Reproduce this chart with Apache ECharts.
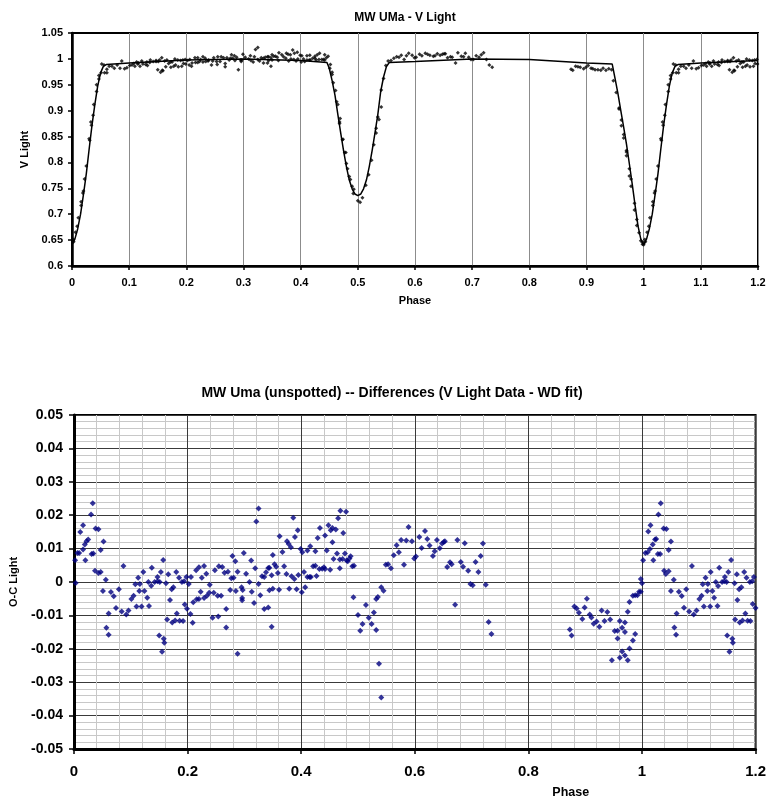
<!DOCTYPE html>
<html>
<head>
<meta charset="utf-8">
<script src="https://cdn.jsdelivr.net/npm/echarts@6.0.0/dist/echarts.min.js"></script>
<style>
html,body{margin:0;padding:0;background:#fff;}
#chart{width:769px;height:800px;}
</style>
</head>
<body>
<div id="chart"></div>
<script>
// ---------- Data ----------
const topTitle = 'MW UMa - V Light';
const bottomTitle = 'MW Uma (unspotted) -- Differences (V Light Data - WD fit)';

// WD fit curve (phase, V light)
const fitCurve = [
[0,0.641],[0.005,0.652],[0.01,0.672],[0.015,0.700],[0.02,0.738],[0.025,0.778],[0.03,0.826],[0.035,0.872],[0.04,0.912],[0.045,0.948],[0.05,0.973],[0.055,0.986],[0.06,0.989],
[0.1,0.992],[0.2,0.998],[0.3,1.000],[0.4,0.997],[0.446,0.993],
[0.45,0.982],[0.455,0.958],[0.46,0.930],[0.465,0.893],[0.47,0.857],[0.475,0.823],[0.48,0.792],[0.485,0.766],[0.49,0.749],[0.495,0.739],[0.5,0.736],
[0.505,0.739],[0.51,0.749],[0.515,0.766],[0.52,0.792],[0.525,0.823],[0.53,0.857],[0.535,0.893],[0.54,0.937],[0.545,0.965],[0.55,0.985],[0.555,0.993],
[0.6,0.995],[0.7,1.000],[0.8,0.999],[0.9,0.992],[0.945,0.990],
[0.95,0.962],[0.955,0.933],[0.96,0.900],[0.965,0.868],[0.97,0.835],[0.975,0.797],[0.98,0.758],[0.985,0.717],[0.99,0.678],[0.995,0.652],[1.0,0.641],
[1.005,0.652],[1.01,0.672],[1.015,0.700],[1.02,0.738],[1.025,0.778],[1.03,0.826],[1.035,0.872],[1.04,0.912],[1.045,0.948],[1.05,0.973],[1.055,0.986],[1.06,0.989],
[1.1,0.992],[1.2,0.997]
];

// Observed V light (phase, V light)
const vLightObs = [
[0.002,0.651],[0.003,0.647],[0.006,0.665],[0.009,0.677],[0.011,0.693],[0.016,0.724],[0.016,0.717],[0.019,0.741],[0.020,0.745],[0.022,0.768],[0.025,0.793],[0.030,0.846],[0.031,0.843],[0.033,0.878],[0.034,0.872],[0.037,0.891],[0.038,0.912],[0.043,0.950],[0.043,0.937],[0.047,0.968],[0.047,0.961],[0.051,0.973],[0.052,0.990],[0.056,0.988],[0.057,0.973],[0.061,0.980],[0.061,0.973],[0.065,0.986],[0.070,0.986],[0.074,0.982],[0.079,0.988],[0.084,0.982],[0.087,0.996],[0.092,0.981],[0.096,0.983],[0.101,0.987],[0.105,0.988],[0.108,0.991],[0.110,0.986],[0.113,0.994],[0.115,0.990],[0.116,0.992],[0.119,0.986],[0.122,0.996],[0.124,0.990],[0.129,0.989],[0.131,0.994],[0.132,0.987],[0.136,0.993],[0.137,0.998],[0.142,0.995],[0.147,0.995],[0.147,0.997],[0.150,0.979],[0.151,0.995],[0.153,0.998],[0.155,0.974],[0.157,1.002],[0.158,0.978],[0.159,0.977],[0.162,0.996],[0.164,0.985],[0.166,0.998],[0.169,0.991],[0.172,0.994],[0.173,0.984],[0.175,0.994],[0.178,0.986],[0.180,1.000],[0.181,0.988],[0.185,0.998],[0.186,0.985],[0.190,0.997],[0.192,0.986],[0.194,0.998],[0.195,0.991],[0.198,0.999],[0.199,0.990],
[0.202,0.997],[0.205,0.988],[0.206,0.999],[0.209,0.986],[0.210,0.992],[0.215,1.002],[0.216,0.993],[0.220,0.993],[0.220,1.002],[0.223,0.995],[0.225,0.999],[0.229,1.004],[0.229,0.994],[0.233,1.001],[0.234,0.995],[0.238,0.996],[0.239,0.998],[0.244,0.988],[0.246,0.996],[0.248,1.002],[0.253,0.995],[0.254,0.989],[0.255,1.004],[0.259,0.995],[0.261,1.004],[0.265,1.002],[0.268,0.991],[0.268,0.985],[0.271,1.002],[0.275,0.998],[0.277,1.001],[0.279,1.008],[0.281,1.001],[0.284,1.006],[0.285,0.997],[0.288,1.003],[0.291,0.979],[0.295,0.998],[0.296,0.995],[0.297,0.998],[0.299,1.009],[0.303,1.003],[0.309,1.000],[0.312,1.006],[0.313,0.997],[0.317,0.994],[0.319,1.004],[0.321,1.018],[0.325,1.022],[0.325,0.999],[0.328,0.996],[0.331,1.002],[0.335,1.001],[0.335,0.992],[0.338,1.003],[0.342,1.004],[0.342,0.992],[0.344,1.004],[0.344,0.997],[0.348,1.002],[0.348,0.986],[0.350,1.008],[0.350,0.998],[0.353,1.005],[0.356,1.005],[0.359,1.003],[0.361,0.997],[0.362,1.012],[0.367,1.008],[0.370,1.004],[0.374,1.001],[0.375,1.011],[0.378,1.009],[0.379,0.996],[0.382,1.008],[0.383,1.000],[0.386,1.017],[0.388,0.999],[0.389,1.011],[0.392,0.996],[0.394,1.013],[0.395,1.000],[0.399,1.007],[0.401,0.994],[0.402,1.006],[0.405,1.000],[0.407,0.995],[0.411,1.006],[0.411,0.998],[0.415,0.998],[0.416,1.007],[0.417,0.998],[0.421,1.001],[0.425,1.005],[0.425,1.001],[0.427,0.998],[0.429,1.008],[0.432,0.999],[0.433,1.011],[0.437,0.999],[0.440,0.999],[0.442,1.008],[0.442,0.998],[0.445,1.002],[0.448,1.005],
[0.451,0.982],[0.452,0.989],[0.455,0.974],[0.455,0.970],[0.457,0.954],[0.461,0.939],[0.463,0.917],[0.465,0.912],[0.468,0.878],[0.468,0.875],[0.469,0.885],[0.473,0.844],[0.474,0.845],[0.477,0.819],[0.479,0.819],[0.480,0.798],[0.482,0.788],[0.485,0.773],[0.487,0.767],[0.490,0.754],[0.492,0.740],[0.493,0.748],[0.500,0.726],[0.504,0.723],[0.508,0.732],[0.514,0.756],[0.519,0.776],[0.524,0.804],[0.528,0.834],[0.532,0.857],[0.532,0.866],[0.535,0.888],[0.537,0.883],[0.541,0.940],[0.541,0.907],[0.545,0.962],[0.549,0.987],[0.553,0.996],[0.558,0.997],
[0.563,1.001],[0.568,1.004],[0.572,1.003],[0.576,1.007],[0.581,0.999],[0.585,1.006],[0.589,1.011],[0.595,1.007],[0.599,1.002],[0.602,1.003],[0.608,1.009],[0.612,1.006],[0.618,1.011],[0.622,1.009],[0.626,1.007],[0.632,1.005],[0.635,1.006],[0.639,1.010],[0.644,1.007],[0.648,1.009],[0.651,1.010],[0.653,1.010],[0.657,1.002],[0.662,1.004],[0.665,1.003],[0.671,0.992],[0.675,1.012],[0.681,1.005],[0.685,1.004],[0.688,1.011],[0.694,1.003],[0.698,0.999],[0.702,0.999],[0.707,1.006],[0.712,1.003],[0.716,1.008],[0.720,1.012],[0.725,0.999],[0.730,0.988],[0.735,0.984],
[0.873,0.980],[0.876,0.978],[0.881,0.986],[0.885,0.985],[0.889,0.984],[0.895,0.981],[0.899,0.984],[0.903,0.987],[0.908,0.982],[0.911,0.981],[0.915,0.979],[0.920,0.979],[0.925,0.978],[0.929,0.982],[0.934,0.978],[0.939,0.981],[0.944,0.979],[0.947,0.958],[0.952,0.935],[0.957,0.905],[0.957,0.903],[0.961,0.882],[0.961,0.871],[0.965,0.854],[0.965,0.847],[0.970,0.823],[0.970,0.820],[0.970,0.813],[0.975,0.774],[0.975,0.788],[0.978,0.754],[0.978,0.768],[0.984,0.708],[0.984,0.721],[0.988,0.678],[0.988,0.690],[0.992,0.664],[0.995,0.649],[0.998,0.642],[0.998,0.646],[1.000,0.641],
[1.002,0.651],[1.003,0.647],[1.006,0.665],[1.009,0.677],[1.011,0.693],[1.016,0.724],[1.016,0.717],[1.019,0.741],[1.020,0.745],[1.022,0.768],[1.025,0.793],[1.030,0.846],[1.031,0.843],[1.033,0.878],[1.034,0.872],[1.037,0.891],[1.038,0.912],[1.043,0.950],[1.043,0.937],[1.047,0.968],[1.047,0.961],[1.051,0.973],[1.052,0.990],[1.056,0.988],[1.057,0.973],[1.061,0.980],[1.061,0.973],[1.065,0.986],[1.070,0.986],[1.074,0.982],[1.079,0.988],[1.084,0.982],[1.087,0.996],[1.092,0.981],[1.096,0.983],[1.101,0.987],[1.105,0.988],[1.108,0.991],[1.110,0.986],[1.113,0.994],[1.115,0.990],[1.116,0.992],[1.119,0.986],[1.122,0.996],[1.124,0.990],[1.129,0.989],[1.131,0.994],[1.132,0.987],[1.136,0.993],[1.137,0.998],[1.142,0.995],[1.147,0.995],[1.147,0.997],[1.150,0.979],[1.151,0.995],[1.153,0.998],[1.155,0.974],[1.157,1.002],[1.158,0.978],[1.159,0.977],[1.162,0.996],[1.164,0.985],[1.166,0.998],[1.169,0.991],[1.172,0.994],[1.173,0.984],[1.175,0.994],[1.178,0.986],[1.180,1.000],[1.181,0.988],[1.185,0.998],[1.186,0.985],[1.190,0.997],[1.192,0.986],[1.194,0.998],[1.195,0.991],[1.198,0.999],[1.199,0.990]
];

// O-C residuals (phase, V light data - WD fit)
const ocResiduals = [
[0.002,0.0065],[0.003,-0.0003],[0.006,0.0087],[0.009,0.0087],[0.011,0.015],[0.016,0.017],[0.016,0.0097],[0.019,0.0112],[0.020,0.0065],[0.022,0.0122],[0.025,0.0127],[0.030,0.0202],[0.031,0.0084],[0.033,0.0236],[0.034,0.0085],[0.037,0.0034],[0.038,0.016],[0.043,0.0158],[0.043,0.0027],[0.047,0.0096],[0.047,0.003],[0.051,-0.0027],[0.052,0.0121],[0.056,0.0007],[0.057,-0.0137],[0.061,-0.0094],[0.061,-0.0158],[0.065,-0.003],[0.070,-0.0043],[0.074,-0.0078],[0.079,-0.0022],[0.084,-0.0088],[0.087,0.0048],[0.092,-0.0097],[0.096,-0.0085],[0.101,-0.0051],[0.105,-0.0041],[0.108,-0.0007],[0.110,-0.0073],[0.113,0.0013],[0.115,-0.0027],[0.116,-0.0006],[0.119,-0.0073],[0.122,0.003],[0.124,-0.0027],[0.129,-0.0047],[0.131,0],[0.132,-0.0072],[0.136,-0.0011],[0.137,0.0043],[0.142,0],[0.147,0.0002],[0.147,0.0015],[0.150,-0.016],[0.151,0],[0.153,0.003],[0.155,-0.0209],[0.157,0.0066],[0.158,-0.017],[0.159,-0.0182],[0.162,-0.0004],[0.164,-0.0112],[0.166,0.0023],[0.169,-0.0054],[0.172,-0.0022],[0.173,-0.0121],[0.175,-0.0016],[0.178,-0.0115],[0.180,0.003],[0.181,-0.0094],[0.185,0.0013],[0.186,-0.0116],[0.190,0],[0.192,-0.0117],[0.194,0.0002],[0.195,-0.0067],[0.198,0.0015],[0.199,-0.008],
[0.202,-0.0006],[0.205,-0.0096],[0.206,0.0015],[0.209,-0.0122],[0.210,-0.0061],[0.215,0.0035],[0.216,-0.0052],[0.220,-0.0051],[0.220,0.0044],[0.223,-0.0029],[0.225,0.0013],[0.229,0.0048],[0.229,-0.0048],[0.233,0.0025],[0.234,-0.0041],[0.238,-0.0032],[0.239,-0.0008],[0.244,-0.0107],[0.246,-0.0032],[0.248,0.0035],[0.253,-0.0041],[0.254,-0.0103],[0.255,0.0047],[0.259,-0.0041],[0.261,0.0045],[0.265,0.0028],[0.268,-0.0081],[0.268,-0.0136],[0.271,0.0031],[0.275,-0.0024],[0.277,0.0011],[0.279,0.0078],[0.281,0.0013],[0.284,0.0062],[0.285,-0.0027],[0.288,0.0031],[0.288,-0.0215],[0.295,-0.0016],[0.296,-0.0055],[0.297,-0.0024],[0.296,-0.0048],[0.299,0.0087],[0.303,0.0025],[0.309,0],[0.312,0.0064],[0.313,-0.0029],[0.317,-0.0063],[0.319,0.0041],[0.321,0.0181],[0.325,0.022],[0.325,-0.0006],[0.328,-0.004],[0.331,0.0017],[0.335,0.0015],[0.335,-0.0081],[0.338,0.0029],[0.342,0.0042],[0.342,-0.0076],[0.344,0.0043],[0.344,-0.0025],[0.348,0.002],[0.348,-0.0134],[0.350,0.0081],[0.350,-0.002],[0.353,0.0053],[0.356,0.0046],[0.359,0.0027],[0.361,-0.0023],[0.362,0.0137],[0.367,0.009],[0.370,0.0047],[0.374,0.0024],[0.375,0.0122],[0.378,0.0114],[0.379,-0.002],[0.382,0.0104],[0.383,0.0017],[0.386,0.0192],[0.388,0.0009],[0.389,0.0135],[0.392,-0.0022],[0.394,0.0155],[0.395,0.0021],[0.399,0.0099],[0.401,-0.0031],[0.402,0.0089],[0.405,0.003],[0.407,-0.0016],
[0.411,0.0094],[0.411,0.0015],[0.415,0.0015],[0.416,0.0107],[0.417,0.0015],[0.421,0.0047],[0.425,0.0092],[0.425,0.0049],[0.427,0.0018],[0.429,0.0132],[0.432,0.0039],[0.433,0.0162],[0.437,0.004],[0.440,0.0044],[0.442,0.0139],[0.442,0.0039],[0.445,0.0094],[0.448,0.017],[0.451,0.0037],[0.452,0.0155],[0.455,0.0162],[0.455,0.0119],[0.457,0.0069],[0.461,0.0157],[0.463,0.0085],[0.465,0.0191],[0.468,0.0067],[0.468,0.0041],[0.469,0.0213],[0.473,0.0069],[0.474,0.0147],[0.477,0.0085],[0.479,0.021],[0.480,0.0064],[0.482,0.0062],[0.485,0.007],[0.487,0.0077],[0.490,0.0047],[0.492,-0.0046],[0.493,0.0049],
[0.500,-0.0099],[0.504,-0.0146],[0.508,-0.0126],[0.514,-0.0069],[0.519,-0.0107],[0.524,-0.0126],[0.528,-0.0091],[0.532,-0.0144],[0.532,-0.0051],[0.535,-0.0045],[0.537,-0.0245],[0.541,-0.0016],[0.541,-0.0346],[0.545,-0.0026],[0.549,0.0052],[0.553,0.0053],[0.558,0.0041],[0.563,0.008],[0.568,0.011],[0.572,0.0089],[0.576,0.0126],[0.581,0.0052],[0.585,0.0124],[0.589,0.0165],[0.595,0.0122],[0.599,0.007],[0.602,0.0076],[0.608,0.0135],[0.612,0.0102],[0.618,0.0153],[0.622,0.0129],[0.626,0.0109],[0.632,0.0078],[0.635,0.0092],[0.639,0.0126],[0.644,0.0101],[0.648,0.0115],[0.651,0.012],[0.653,0.0122],[0.657,0.0045],[0.662,0.0059],[0.665,0.0053],[0.671,-0.0068],[0.675,0.0126],[0.681,0.006],[0.685,0.0046],[0.688,0.0116],[0.694,0.0034],[0.698,-0.0006],[0.702,-0.001],[0.707,0.006],[0.712,0.003],[0.716,0.0078],[0.720,0.0115],[0.725,-0.0008],[0.730,-0.012],[0.735,-0.0156],
[0.873,-0.0142],[0.876,-0.016],[0.881,-0.0073],[0.885,-0.0079],[0.889,-0.0092],[0.895,-0.0111],[0.899,-0.0076],[0.903,-0.005],[0.908,-0.0097],[0.911,-0.0106],[0.915,-0.0125],[0.920,-0.0118],[0.925,-0.0134],[0.929,-0.0085],[0.934,-0.0117],[0.939,-0.009],[0.944,-0.0112],[0.947,-0.0234],[0.952,-0.0147],[0.957,-0.0146],[0.957,-0.0169],[0.961,-0.0117],[0.961,-0.0227],[0.965,-0.0137],[0.965,-0.0208],[0.970,-0.0121],[0.970,-0.015],[0.970,-0.022],[0.975,-0.0234],[0.975,-0.0089],[0.978,-0.0199],[0.978,-0.006],[0.984,-0.0175],[0.984,-0.0041],[0.988,-0.0156],[0.988,-0.004],[0.992,-0.004],[0.995,-0.0029],[0.998,-0.0029],[0.998,0.0009],[1.000,-0.0004],
[1.002,0.0065],[1.006,0.0087],[1.010,0.0089],[1.011,0.0151],[1.014,0.0099],[1.015,0.017],[1.019,0.0112],[1.020,0.0065],[1.023,0.0127],[1.025,0.0129],[1.028,0.0084],[1.029,0.0202],[1.032,0.0084],[1.033,0.0236],[1.038,0.016],[1.039,0.0034],[1.042,0.0024],[1.043,0.0159],[1.047,0.0096],[1.047,0.0032],[1.051,0.0121],[1.051,-0.0027],[1.056,0.0007],[1.057,-0.0136],[1.060,-0.0158],[1.061,-0.0094],[1.065,-0.0029],[1.070,-0.0042],[1.074,-0.0077],[1.078,-0.0022],[1.083,-0.0088],[1.088,0.0048],[1.091,-0.0097],[1.096,-0.0085],[1.101,-0.0051],[1.105,-0.0041],[1.107,-0.0007],[1.109,-0.0073],[1.112,0.0013],[1.115,-0.0027],[1.116,-0.0006],[1.120,-0.0073],[1.121,0.003],[1.124,-0.0027],[1.127,-0.0047],[1.130,0],[1.133,-0.0072],[1.134,-0.0012],[1.136,0.0043],[1.141,0],[1.145,0.0002],[1.146,0.0015],[1.149,0],[1.150,-0.016],[1.152,0.003],[1.154,-0.0209],[1.157,0.0066],[1.159,-0.017],[1.160,-0.0182],[1.163,-0.0004],[1.164,-0.0112],[1.167,0.0023],[1.168,-0.0054],[1.171,-0.0022],[1.172,-0.0121],[1.175,-0.0016],[1.177,-0.0115],[1.180,0.003],[1.182,-0.0094],[1.184,0.0013],[1.186,-0.0116],[1.190,0],[1.191,-0.0117],[1.194,0.0002],[1.195,-0.0066],[1.197,0.0015],[1.200,-0.0078]
];

// ---------- Chart ----------
const FONT = '"Liberation Sans", Arial, sans-serif';
const fmt = v => String(+v.toFixed(2));
const boldText = (size) => ({fontFamily: FONT, fontWeight: 'bold', fontSize: size, color: '#000'});

const chart = echarts.init(document.getElementById('chart'), null, {renderer: 'canvas'});
chart.setOption({
  animation: false,
  backgroundColor: '#ffffff',
  title: [
    {text: topTitle, left: 405, top: 18, textAlign: 'center', textVerticalAlign: 'middle', padding: 0, textStyle: boldText(12)},
    {text: bottomTitle, left: 392, top: 393, textAlign: 'center', textVerticalAlign: 'middle', padding: 0, textStyle: boldText(14)}
  ],
  grid: [
    {left: 72, top: 33, width: 686, height: 233, show: true, borderColor: '#000', borderWidth: 2, backgroundColor: 'transparent'},
    {left: 74, top: 415, width: 684, height: 334, show: true, borderColor: '#000', borderWidth: 2, backgroundColor: 'transparent'}
  ],
  xAxis: [
    {
      gridIndex: 0, type: 'value', min: 0, max: 1.2, interval: 0.1,
      axisLine: {show: true, onZero: false, lineStyle: {color: '#000', width: 2.5}},
      axisTick: {show: true, inside: false, length: 4, lineStyle: {color: '#000', width: 1.5}},
      axisLabel: Object.assign({formatter: fmt, margin: 11}, boldText(11)),
      splitLine: {show: true, lineStyle: {color: '#8c8c8c', width: 1}},
      name: 'Phase', nameLocation: 'middle', nameGap: 29, nameTextStyle: boldText(11)
    },
    {
      gridIndex: 1, type: 'value', min: 0, max: 1.2, interval: 0.2,
      axisLine: {show: true, onZero: false, lineStyle: {color: '#000', width: 3}},
      axisTick: {show: true, inside: false, length: 5, lineStyle: {color: '#000', width: 1.5}},
      axisLabel: Object.assign({formatter: fmt, margin: 15}, boldText(15)),
      splitLine: {show: true, lineStyle: {color: '#3a3a3a', width: 1}},
      minorTick: {show: false, splitNumber: 5},
      minorSplitLine: {show: true, lineStyle: {color: '#c8c8c8', width: 1}},
      name: 'Phase', nameLocation: 'middle', nameGap: 37,
      nameTextStyle: Object.assign({padding: [0, 0, 0, 312]}, boldText(12.5))
    }
  ],
  yAxis: [
    {
      gridIndex: 0, type: 'value', min: 0.6, max: 1.05, interval: 0.05,
      axisLine: {show: true, onZero: false, lineStyle: {color: '#000', width: 2.5}},
      axisTick: {show: true, inside: false, length: 4, lineStyle: {color: '#000', width: 1.5}},
      axisLabel: Object.assign({formatter: fmt, margin: 9}, boldText(11)),
      splitLine: {show: false},
      name: 'V Light', nameLocation: 'middle', nameGap: 35, nameTextStyle: boldText(11)
    },
    {
      gridIndex: 1, type: 'value', min: -0.05, max: 0.05, interval: 0.01,
      axisLine: {show: true, onZero: false, lineStyle: {color: '#000', width: 3}},
      axisTick: {show: true, inside: false, length: 5, lineStyle: {color: '#000', width: 1.5}},
      axisLabel: Object.assign({formatter: fmt, margin: 11}, boldText(14)),
      splitLine: {show: true, lineStyle: {color: '#3a3a3a', width: 1}},
      minorTick: {show: false, splitNumber: 5},
      minorSplitLine: {show: true, lineStyle: {color: '#c8c8c8', width: 1}},
      name: 'O-C Light', nameLocation: 'middle', nameGap: 55, nameTextStyle: boldText(11)
    }
  ],
  series: [
    {
      name: 'V Light data', type: 'scatter', xAxisIndex: 0, yAxisIndex: 0,
      symbol: 'diamond', symbolSize: 4, itemStyle: {color: '#000'},
      data: vLightObs, z: 3
    },
    {
      name: 'WD fit', type: 'line', xAxisIndex: 0, yAxisIndex: 0,
      symbol: 'none', showSymbol: false, smooth: false,
      lineStyle: {color: '#000', width: 1.5},
      data: fitCurve, z: 4
    },
    {
      name: 'O-C', type: 'scatter', xAxisIndex: 1, yAxisIndex: 1,
      symbol: 'diamond', symbolSize: 6, itemStyle: {color: '#000080'},
      data: ocResiduals, z: 3
    }
  ]
});
</script>
</body>
</html>
